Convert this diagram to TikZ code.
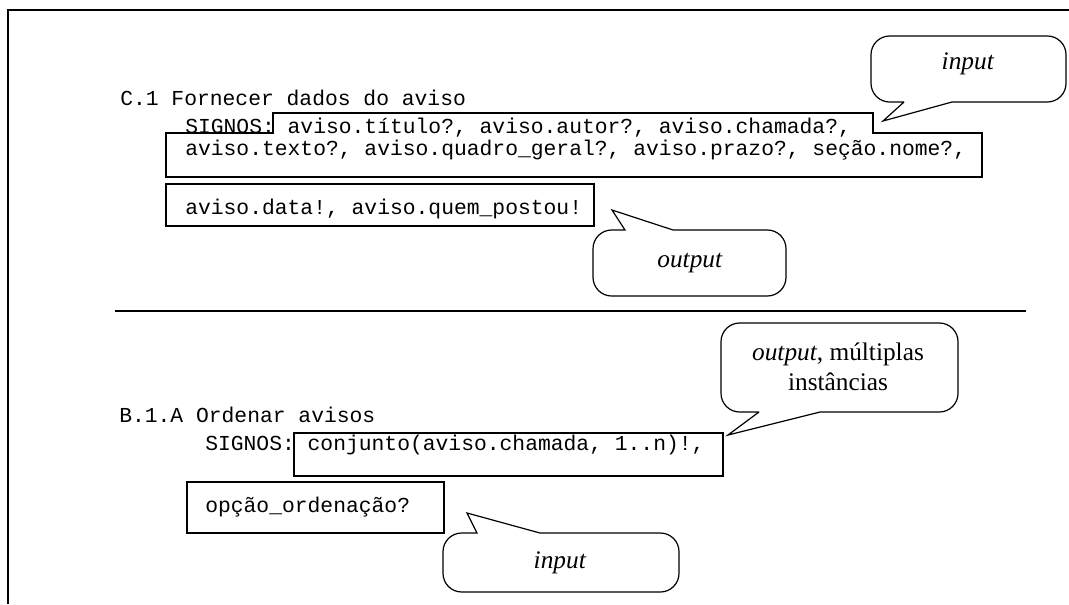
\documentclass[tikz,border=0pt]{standalone}
\usepackage{fontspec}
\setmainfont{Liberation Serif}
\setmonofont{Liberation Mono}

\tikzset{
  sig/.style={anchor=base west, inner sep=0pt, font=\ttfamily\fontsize{16}{19}\selectfont},
  note/.style={inner sep=0pt, align=center, font=\fontsize{19}{22.5}\selectfont},
  sigbox/.style={line width=1.2pt},
  bubble/.style={line width=0.9pt, line join=miter}
}

\begin{document}
\begin{tikzpicture}[x=0.75pt, y=-0.75pt]

    % Fix the page size (pixels of the reference, y going down)
    \useasboundingbox (0,0) rectangle (1069,604);

    % Draw the frame and the separating line
    \draw[line width=1.6pt] (8,604) -- (8,10) -- (1069,10);
    \draw[line width=1.6pt] (115,311) -- (1026,311);

    % Step C.1: texts
    \node[sig] (cTitle) at (120,105) {C.1 Fornecer dados do aviso};
    \node[sig] (cLineA) at (185,133) {SIGNOS: aviso.título?, aviso.autor?, aviso.chamada?,};
    \node[sig] (cLineB) at (185,155) {aviso.texto?, aviso.quadro\_geral?, aviso.prazo?, seção.nome?,};
    \node[sig] (cLineC) at (185,214) {aviso.data!, aviso.quem\_postou!};

    % Step C.1: border round the inputs and round the outputs
    \draw[sigbox] (273,113) -- (873,113) -- (873,133) -- (982,133) -- (982,177)
        -- (166,177) -- (166,133) -- (273,133) -- cycle;
    \draw[sigbox] (166,184) rectangle (594,226);

    % Step C.1: callout for the inputs (tail at the bottom)
    \coordinate (cInTip) at (883,121);
    \draw[bubble] (904,102) -- (cInTip) -- (952,102) [rounded corners=14pt]
        -- (1066,102) -- (1066,36) -- (871,36) -- (871,102) -- (904,102);
    \node[note] (cInText) at (968,64) {\textit{input}};

    % Step C.1: callout for the outputs (tail at the top)
    \coordinate (cOutTip) at (612,210);
    \draw[bubble] (673,230) -- (cOutTip) -- (625,230) [rounded corners=14pt]
        -- (593,230) -- (593,296) -- (786,296) -- (786,230) -- (673,230);
    \node[note] (cOutText) at (690,263) {\textit{output}};

    % Step B.1.A: texts
    \node[sig] (bTitle) at (119,422) {B.1.A Ordenar avisos};
    \node[sig] (bLineA) at (205,450) {SIGNOS: conjunto(aviso.chamada, 1..n)!,};
    \node[sig] (bLineB) at (205,512) {opção\_ordenação?};

    % Step B.1.A: borders
    \draw[sigbox] (294,433) rectangle (723,476);
    \draw[sigbox] (187,482) rectangle (444,533);

    % Step B.1.A: callout for the outputs (tail at the bottom)
    \coordinate (bOutTip) at (728,435);
    \draw[bubble] (759,412) -- (bOutTip) -- (820,412) [rounded corners=14pt]
        -- (958,412) -- (958,323) -- (721,323) -- (721,412) -- (759,412);
    \node[note] (bOutText) at (838,367) {\textit{output}, múltiplas\\instâncias};

    % Step B.1.A: callout for the inputs (tail at the top)
    \coordinate (bInTip) at (467,513);
    \draw[bubble] (540,533) -- (bInTip) -- (477,533) [rounded corners=14pt]
        -- (443,533) -- (443,592) -- (679,592) -- (679,533) -- (540,533);
    \node[note] (bInText) at (560,563) {\textit{input}};

\end{tikzpicture}
\end{document}
